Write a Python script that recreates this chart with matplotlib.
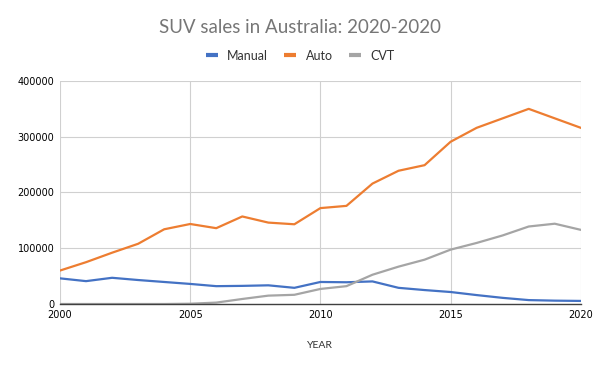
import matplotlib
matplotlib.use("Agg")
import matplotlib.pyplot as plt

# 数据
years = list(range(2000, 2021))
manual = [46000, 41000, 47000, 43000, 39500, 36000, 32000, 32500, 33500, 29000,
          39500, 39000, 40500, 29000, 25000, 21500, 16000, 11000, 7000, 6000, 5500]
auto = [60000, 75000, 92000, 108000, 134000, 143500, 136000, 157000, 146000, 143000,
        172000, 176000, 216000, 239000, 249000, 291000, 316000, 333000, 350000, 333000, 316000]
cvt = [0, 0, 0, 0, 0, 500, 2500, 9000, 15000, 16500,
       27000, 32000, 52500, 67000, 79500, 97500, 109500, 123000, 139000, 144000, 133000]
x_ticks = [2000, 2005, 2010, 2015, 2020]
y_ticks = [0, 100000, 200000, 300000, 400000]

fig = plt.figure(figsize=(6, 3.71), dpi=100)
ax = fig.add_axes([0.1, 0.1806, 0.868, 0.6011])

ax.plot(years, manual, color="#4472C4", lw=1.6, label="Manual")
ax.plot(years, auto, color="#ED7D31", lw=1.6, label="Auto")
ax.plot(years, cvt, color="#A5A5A5", lw=1.6, label="CVT")

ax.set_xlim(2000, 2020)
ax.set_ylim(0, 400000)
ax.set_xticks(x_ticks)
ax.set_yticks(y_ticks)
ax.tick_params(length=0, labelsize=7, pad=4)
ax.grid(True, color="#d0d0d0", lw=0.8)
ax.set_axisbelow(True)
for s in ["left", "right", "top"]:
    ax.spines[s].set_visible(False)
ax.spines["bottom"].set_color("#404040")
ax.spines["bottom"].set_linewidth(1.0)
ax.spines["bottom"].set_zorder(5)

ax.set_xlabel("YEAR", family="Lato", fontsize=7.5, color="#333333", labelpad=15.5)

fig.text(0.5, 0.926, "SUV sales in Australia: 2020-2020", ha="center", va="center",
         family="Lato", fontsize=13.5, color="#767676")

leg = fig.legend(loc="center", bbox_to_anchor=(0.5, 0.85), ncol=3, frameon=False,
                 prop={"family": "Lato", "size": 9},
                 handlelength=0.95, handletextpad=0.75, columnspacing=1.3)
for line in leg.get_lines():
    line.set_linewidth(3)
    line.set_solid_capstyle("butt")
for t in leg.get_texts():
    t.set_color("#333333")

plt.savefig("out.png", dpi=100)
